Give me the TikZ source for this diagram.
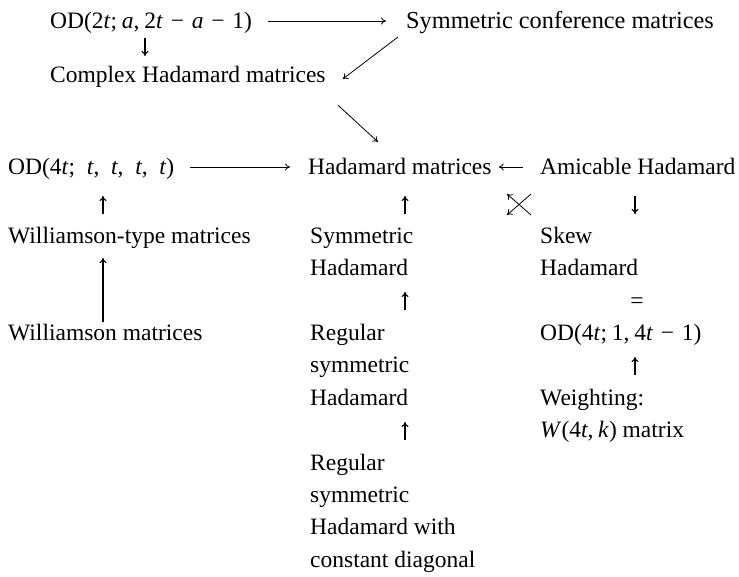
\documentclass[tikz,border=0pt]{standalone}
\usepackage{fontspec}
\setmainfont{Liberation Serif}
\usetikzlibrary{arrows.meta}
\newcommand{\mi}[1]{\textit{#1}}
\newcommand{\gt}{\hspace{0.2em}}
\newcommand{\gm}{\hspace{0.33em}}
\newcommand{\gq}{\hspace{0.5em}}
\begin{document}
\begin{tikzpicture}[x=1pt,y=-1pt,
  lbl/.style={anchor=base west,inner sep=0pt,font=\fontsize{23.5}{32}\selectfont},
  arr/.style={-{To[length=5pt,width=7pt]},line width=0.8pt},
  garr/.style={-{To[length=5pt,width=7pt]},line width=1.1pt}]
\useasboundingbox (0,0) rectangle (739,576);
% top rows
\node[lbl] (od2) at (50,28) {OD(2\mi{t};\gt\mi{a},\gt2\mi{t}\gm−\gm\mi{a}\gm−\gm1)};
\node[lbl,font=\fontsize{24.3}{32}\selectfont] (scm) at (406,28) {Symmetric conference matrices};
\node[lbl] (chm) at (50,82) {Complex Hadamard matrices};
% main rows
\node[lbl] (od4) at (8,174) {OD(4\mi{t};\gq\mi{t},\gq\mi{t},\gq\mi{t},\gq\mi{t})};
\node[lbl] (hm) at (308,174) {Hadamard matrices};
\node[lbl] (ah) at (540,174) {Amicable Hadamard};
\node[lbl] (wtm) at (8,243.3) {Williamson-type matrices};
\node[lbl] (wm) at (8,340.5) {Williamson matrices};
% middle column
\node[lbl] (sh1) at (310,243.3) {Symmetric};
\node[lbl] (sh2) at (310,275.7) {Hadamard};
\node[lbl] (rs1) at (310,340.5) {Regular};
\node[lbl] (rs2) at (310,372.9) {symmetric};
\node[lbl] (rs3) at (310,405.3) {Hadamard};
\node[lbl] (rc1) at (310,470.1) {Regular};
\node[lbl] (rc2) at (310,502.5) {symmetric};
\node[lbl] (rc3) at (310,534.9) {Hadamard with};
\node[lbl] (rc4) at (310,567.3) {constant diagonal};
% right column
\node[lbl] (sk1) at (540,243.3) {Skew};
\node[lbl] (sk2) at (540,275.7) {Hadamard};
\node[lbl,anchor=base] (eq) at (637,308.1) {=};
\node[lbl] (odk) at (540,340.5) {OD(4\mi{t};\gt1,\gt4\mi{t}\gm−\gm1)};
\node[lbl] (wg1) at (540,405.3) {Weighting:};
\node[lbl] (wg2) at (540,437.7) {\mi{W}(4\mi{t},\gt\mi{k}) matrix};
% coordinates for short arrows
\coordinate (cA) at (145,0);
\coordinate (cB) at (103,0);
\coordinate (cC) at (405,0);
\coordinate (cD) at (635,0);
% connectors
\draw[arr] ([xshift=16pt,yshift=7pt]od2.base east) -- ([xshift=-20pt,yshift=7pt]scm.base west);
\draw[garr] (cA |- 0,38) -- (cA |- 0,56);
\draw[arr] ([xshift=-8pt,yshift=-9pt]scm.base west) -- ([xshift=17pt,yshift=3pt]chm.base east);
\draw[arr] ([xshift=12pt,yshift=-23pt]chm.base east) -- ([xshift=70pt,yshift=32pt]hm.base west);
\draw[arr] ([xshift=16pt,yshift=7pt]od4.base east) -- ([xshift=-18pt,yshift=7pt]hm.base west);
\draw[arr] ([xshift=-17pt,yshift=7pt]ah.base west) -- ([xshift=7pt,yshift=7pt]hm.base east);
\draw[arr] (531,194) -- (507,215);
\draw[arr] (531,215) -- (507,194);
\draw[garr] (cB |- 0,214) -- (cB |- 0,196);
\draw[garr] (cB |- 0,322) -- (cB |- 0,258);
\draw[garr] (cC |- 0,214) -- (cC |- 0,196);
\draw[garr] (cC |- 0,310) -- (cC |- 0,292);
\draw[garr] (cC |- 0,440) -- (cC |- 0,422);
\draw[garr] (cD |- 0,196) -- (cD |- 0,214);
\draw[garr] (cD |- 0,375) -- (cD |- 0,357);
\end{tikzpicture}
\end{document}
